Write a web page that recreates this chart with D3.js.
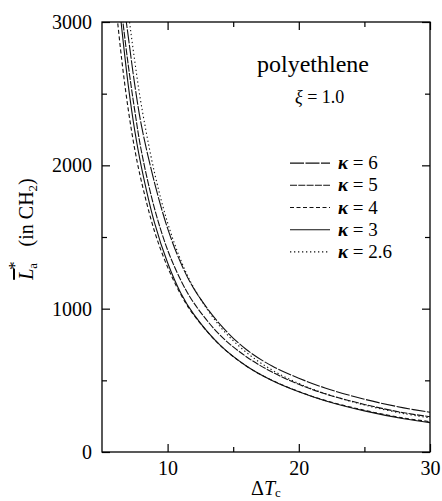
<html>
<head>
    <meta charset="utf-8">
    <title>polyethlene</title>
    <style>
        body {
            margin: 0;
            background: white;
        }
        .frame {
            fill: none;
            stroke: black;
            stroke-width: 1.3;
        }
        .tk line {
            stroke: black;
            stroke-width: 1.2;
        }
        .curve {
            fill: none;
            stroke: #111;
            stroke-width: 1.1;
        }
    </style>
    <script src="https://cdn.jsdelivr.net/npm/d3@7"></script>
</head>
<body>
<div class="mainView"></div>
<script>
    // undercooling values where the curves are read
    let deltaT = [6, 6.5, 7, 7.5, 8, 9, 10, 11, 12, 14, 16, 18, 20, 22, 25, 28, 30];

    // L_a* for each kappa
    let kappa6  = [3700, 3250, 2900, 2560, 2280, 1880, 1560, 1320, 1140, 890, 715, 598, 515, 447, 368, 308, 277];
    let kappa5  = [3508, 3076, 2700, 2380, 2100, 1700, 1410, 1200, 1040, 815, 665, 556, 472, 406, 332, 274, 246];
    let kappa4  = [3170, 2740, 2390, 2110, 1890, 1540, 1290, 1100, 955, 745, 600, 498, 422, 360, 291, 237, 212];
    let kappa3  = [3403, 2960, 2560, 2240, 1990, 1600, 1320, 1110, 960, 745, 600, 497, 420, 358, 287, 232, 205];
    let kappa26 = [4000, 3504, 3076, 2725, 2420, 1950, 1600, 1340, 1145, 875, 695, 570, 478, 408, 328, 268, 238];

    let seriesNames = ["κ = 6", "κ = 5", "κ = 4", "κ = 3", "κ = 2.6"];
    let seriesValues = [kappa6, kappa5, kappa4, kappa3, kappa26];
    let seriesDash = ["14,1.5", "7,1.3", "4,2.5", "none", "1.3,2.7"];

    let xMajor = [10, 20, 30];
    let xMinor = [15, 25];
    let yMajor = [0, 1000, 2000, 3000];
    let yMinor = [500, 1500, 2500];

    let serif = "'Liberation Serif'";

    function getChartConfig() {
        let width = 442;
        let height = 501;
        let margin = { top: 22, bottom: 49, left: 102, right: 12 };
        let bodyWidth = width - margin.left - margin.right;
        let bodyHeight = height - margin.top - margin.bottom;
        let svg = d3.select(".mainView")
            .append("svg")
            .attr("width", width)
            .attr("height", height);
        let container = svg.append("g")
            .attr("transform", "translate(" + [margin.left, margin.top] + ")");
        return { width, height, margin, bodyWidth, bodyHeight, svg, container };
    }

    function getChartScales(config) {
        let { bodyWidth, bodyHeight } = config;
        let xScale = d3.scaleLinear().domain([5, 30]).range([0, bodyWidth]);
        let yScale = d3.scaleLinear().domain([0, 3000]).range([bodyHeight, 0]);
        return { xScale, yScale };
    }

    function tickAxis(container, axis, transform, labelled) {
        let g = container.append("g")
            .attr("class", "tk")
            .attr("transform", transform)
            .call(axis);
        g.select(".domain").remove();
        if (!labelled) g.selectAll("text").remove();
        g.selectAll("text")
            .style("font-family", serif)
            .style("font-size", "20px")
            .attr("fill", "black");
        return g;
    }

    function drawAxes(scales, config) {
        let { xScale, yScale } = scales;
        let { container, bodyWidth, bodyHeight } = config;

        // bottom
        tickAxis(container, d3.axisBottom(xScale).tickValues(xMajor).tickSize(-8).tickPadding(9).tickFormat(d3.format("d")),
            "translate(0," + bodyHeight + ")", true);
        tickAxis(container, d3.axisBottom(xScale).tickValues(xMinor).tickSize(-5), "translate(0," + bodyHeight + ")", false);
        // top
        tickAxis(container, d3.axisTop(xScale).tickValues(xMajor).tickSize(-8), "translate(0,0)", false);
        tickAxis(container, d3.axisTop(xScale).tickValues(xMinor).tickSize(-5), "translate(0,0)", false);

        // left
        tickAxis(container, d3.axisLeft(yScale).tickValues(yMajor).tickSize(-8).tickPadding(10).tickFormat(d3.format("d")),
            "translate(0,0)", true);
        tickAxis(container, d3.axisLeft(yScale).tickValues(yMinor).tickSize(-5), "translate(0,0)", false);
        // right
        tickAxis(container, d3.axisRight(yScale).tickValues(yMajor).tickSize(-8), "translate(" + bodyWidth + ",0)", false);
        tickAxis(container, d3.axisRight(yScale).tickValues(yMinor).tickSize(-5), "translate(" + bodyWidth + ",0)", false);

        container.append("rect")
            .attr("class", "frame")
            .attr("width", bodyWidth)
            .attr("height", bodyHeight);
    }

    function drawCurves(scales, config) {
        let { xScale, yScale } = scales;
        let { svg, container, bodyWidth, bodyHeight } = config;

        svg.append("defs").append("clipPath").attr("id", "plotClip")
            .append("rect").attr("width", bodyWidth).attr("height", bodyHeight);

        let line = d3.line()
            .x((d, i) => xScale(deltaT[i]))
            .y(d => yScale(d))
            .curve(d3.curveCatmullRom);

        container.append("g")
            .attr("clip-path", "url(#plotClip)")
            .selectAll("path")
            .data(seriesValues)
            .enter()
            .append("path")
            .attr("class", "curve")
            .attr("d", d => line(d))
            .style("stroke-dasharray", (d, i) => seriesDash[i]);
    }

    function addText(sel) {
        return sel.append("text").style("font-family", serif).attr("fill", "black");
    }

    function drawLabels(config) {
        let { svg } = config;

        // y title, rotated
        let yt = addText(svg)
            .attr("transform", "translate(33,229) rotate(-90)")
            .attr("text-anchor", "middle")
            .style("font-size", "20px");
        yt.append("tspan").style("font-style", "italic").style("text-decoration", "overline").text("L");
        yt.append("tspan").attr("dy", 4).style("font-size", "13px").text("a");
        yt.append("tspan").attr("dx", -7).attr("dy", -17).style("font-size", "17px").text("*");
        yt.append("tspan").attr("dy", 13).text("\u2002 (in CH");
        yt.append("tspan").attr("dy", 4).style("font-size", "13px").text("2");
        yt.append("tspan").attr("dy", -4).text(")");

        // x title
        let xt = addText(svg)
            .attr("x", 266)
            .attr("y", 495)
            .attr("text-anchor", "middle")
            .style("font-size", "20px");
        xt.append("tspan").text("\u0394");
        xt.append("tspan").style("font-style", "italic").text("T");
        xt.append("tspan").attr("dy", 2).style("font-size", "13px").text("c");

        addText(svg)
            .attr("x", 257)
            .attr("y", 72)
            .style("font-size", "24px")
            .text("polyethlene");

        let xi = addText(svg)
            .attr("x", 295)
            .attr("y", 103)
            .style("font-size", "18px");
        xi.append("tspan").style("font-style", "italic").text("ξ");
        xi.append("tspan").text(" = 1.0");

        // legend
        let rowY = d3.scaleBand().domain(seriesNames).range([152, 263]);
        let leg = svg.append("g").selectAll("g")
            .data(seriesNames)
            .enter()
            .append("g")
            .attr("transform", d => "translate(0," + (rowY(d) + rowY.bandwidth() / 2) + ")");
        leg.append("line")
            .attr("class", "curve")
            .attr("x1", 290).attr("x2", 330)
            .style("stroke-dasharray", (d, i) => seriesDash[i]);
        let lt = addText(leg)
            .attr("x", 338)
            .attr("dy", 6)
            .style("font-size", "19px");
        lt.append("tspan").style("font-style", "italic").style("font-weight", "bold").text(d => d.split(" ")[0]);
        lt.append("tspan").text(d => " " + d.split(" ").slice(1).join(" "));
    }

    function showData() {
        let config = getChartConfig();
        let scales = getChartScales(config);
        drawCurves(scales, config);
        drawAxes(scales, config);
        drawLabels(config);
    }
    showData();
</script>
</body>
</html>
